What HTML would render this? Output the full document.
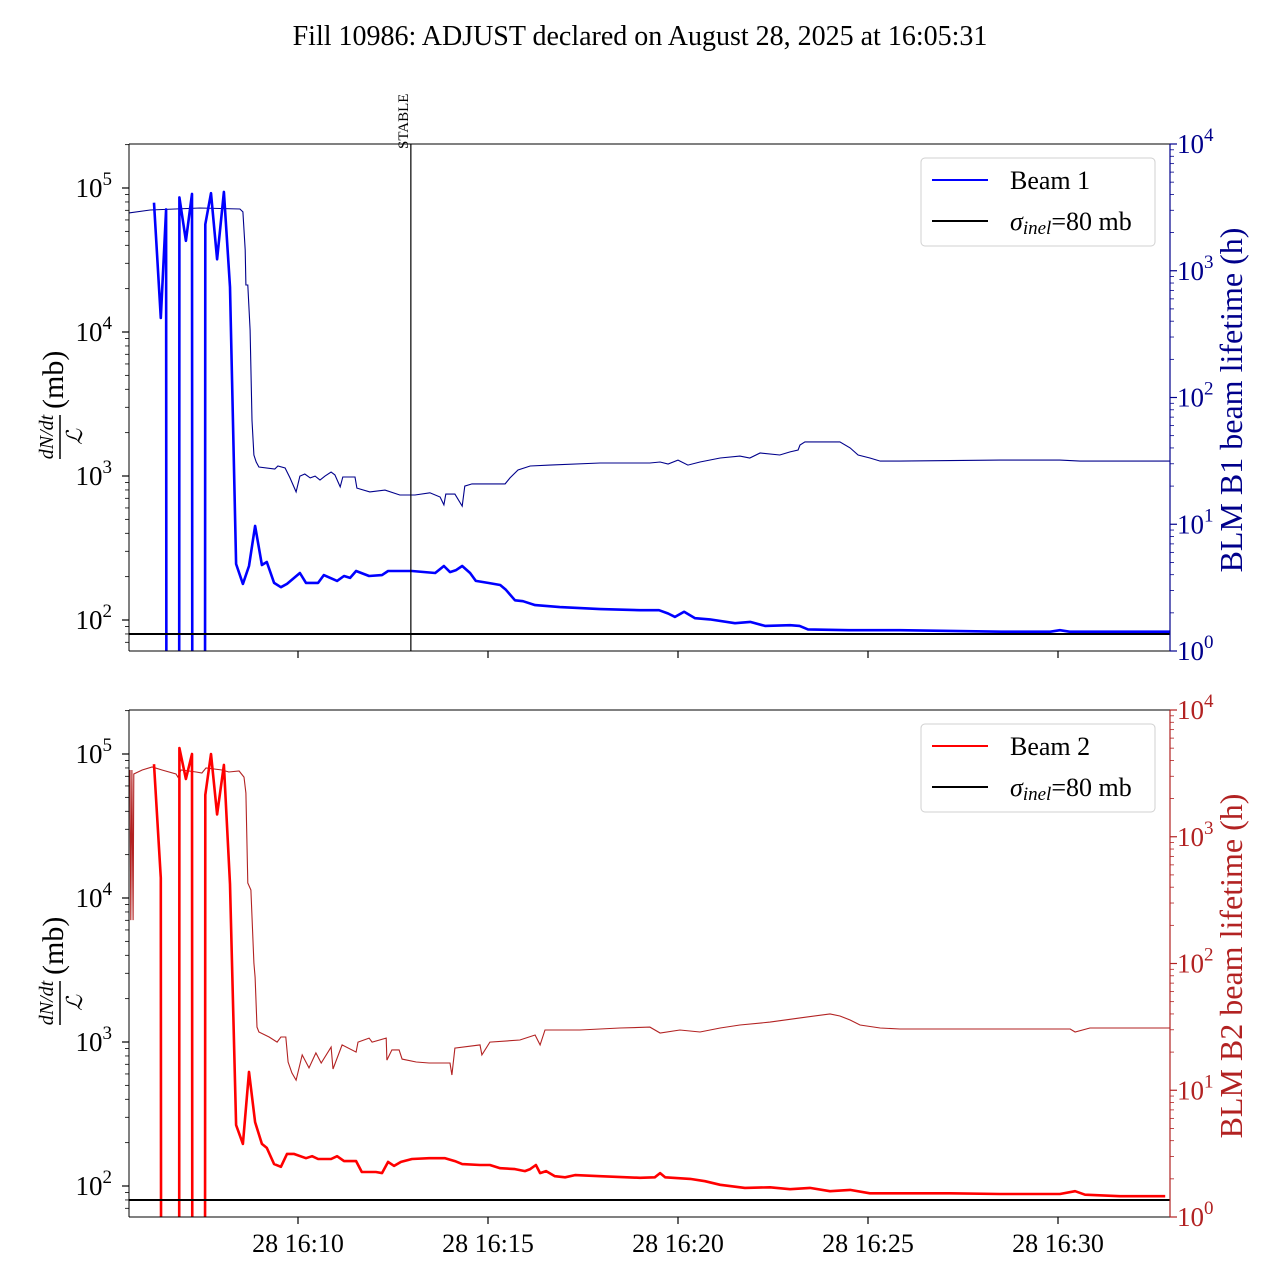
<!DOCTYPE html>
<html><head><meta charset="utf-8"><style>
html,body{margin:0;padding:0;background:#fff;width:1280px;height:1280px;overflow:hidden;}
svg{display:block;position:absolute;left:0;top:0;font-family:"Liberation Serif","DejaVu Serif",serif;}
</style></head><body>
<svg id="chart" width="1280" height="1280" viewBox="0 0 1280 1280" xmlns="http://www.w3.org/2000/svg">
<rect width="1280" height="1280" fill="#fff"/>
<text x="640" y="45" font-size="28" text-anchor="middle">Fill 10986: ADJUST declared on August 28, 2025 at 16:05:31</text>
</svg>
<script>
// time in minutes after 16:00
const xTickMinutes = [10, 15, 20, 25, 30];
const xTickLabels = ["28 16:10", "28 16:15", "28 16:20", "28 16:25", "28 16:30"];
const leftTickExps = [2, 3, 4, 5];
const rightTickExps = [0, 1, 2, 3, 4];
const sigmaInel = 80;
const stableMinute = 12.97;

const b1Time = [6.21,6.39,6.53,6.54,6.87,6.88,7.05,7.21,7.22,7.55,7.56,7.71,7.87,8.05,8.21,8.37,8.55,8.71,8.87,9.05,9.18,9.37,9.55,9.71,10.05,10.21,10.53,10.68,11.03,11.21,11.37,11.53,11.87,12.21,12.37,13.0,13.61,13.84,14.0,14.16,14.32,14.53,14.68,15.0,15.32,15.47,15.71,15.92,16.24,16.89,17.95,19.0,19.5,19.74,19.92,20.16,20.45,20.84,21.5,21.9,22.29,22.95,23.2,23.42,24.5,25.84,28.5,29.8,30.05,30.3,32.95];
const b1Xsec = [79000,12500,71000,1,1,86000,43000,91000,1,1,56000,92000,32000,94000,20500,245,178,237,450,241,253,181,169,178,212,181,181,205,187,202,196,219,202,205,219,219,212,237,215,222,237,212,187,181,175,162,137,135,127,123,119,117,117,111,105,114,103,101,95,97,91,92,91,86,85,85,83,83,85,83,83];

const b1LtTime = [5.55,6.11,7.42,8.47,8.55,8.61,8.63,8.68,8.74,8.79,8.84,8.9,8.97,9.39,9.47,9.66,9.79,9.95,10.05,10.18,10.32,10.45,10.58,10.71,10.87,10.97,11.11,11.18,11.5,11.55,11.89,12.29,12.68,13.08,13.47,13.74,13.84,13.89,14.13,14.32,14.39,14.58,15.05,15.45,15.58,15.79,16.11,16.63,17.95,19.26,19.53,19.74,20.0,20.26,20.58,21.11,21.63,21.89,22.16,22.68,22.95,23.16,23.21,23.34,24.26,24.53,24.74,25.05,25.32,25.84,28.47,30.05,30.58,32.95];
const b1Lifetime = [2857,3014,3126,3070,2913,1458,772,772,341,66,35.2,31,28.3,27.3,28.8,27.8,23.2,18,24,24.9,23.2,24,22.3,24,25.8,24.5,19.7,23.6,23.6,19.3,18,18.6,17,17,17.7,16.4,14.2,17.3,17.3,13.9,20,20.8,20.8,20.8,23.2,26.8,28.8,29.3,30.4,30.4,31,29.9,32.1,29.3,31,33.3,34.5,33.3,36.5,35.2,37.2,38.5,42.2,44.6,44.6,40,35.2,33.3,31.5,31.5,32.1,32.1,31.5,31.5];

const b2Time = [6.21,6.39,6.4,6.87,6.88,7.05,7.21,7.22,7.55,7.56,7.71,7.87,8.05,8.21,8.37,8.55,8.71,8.87,9.05,9.18,9.37,9.55,9.71,9.89,10.21,10.37,10.53,10.87,11.03,11.21,11.53,11.68,12.05,12.21,12.37,12.53,12.71,13.0,13.45,13.87,14.13,14.32,14.79,15.05,15.32,15.71,15.97,16.11,16.26,16.37,16.53,16.76,17.03,17.29,17.95,19.0,19.39,19.53,19.66,20.32,20.71,21.11,21.76,22.42,22.95,23.47,24.0,24.53,25.05,25.84,27.16,28.47,30.05,30.45,30.71,31.63,32.82];
const b2Xsec = [85000,13800,1,1,110000,67000,100000,1,1,52000,100000,38000,84000,12500,265,196,620,278,196,184,142,136,167,167,156,161,154,154,161,149,149,125,125,123,147,138,147,154,156,156,149,142,140,140,133,131,127,131,140,123,127,117,115,119,117,114,115,123,115,112,108,102,97,98,95,97,92,94,89,89,89,88,88,92,87,85,85];

const b2LtTime = [5.58,5.6,5.63,5.66,5.68,5.9,6.16,6.42,6.79,6.84,6.92,7.32,7.47,7.58,8.0,8.18,8.45,8.58,8.63,8.68,8.76,8.84,8.87,8.92,8.97,9.24,9.45,9.55,9.68,9.74,9.84,9.95,10.11,10.29,10.47,10.61,10.87,10.92,11.16,11.53,11.58,11.87,11.95,12.32,12.34,12.47,12.66,12.74,13.11,13.45,14.0,14.05,14.13,14.79,14.84,15.05,15.84,16.24,16.37,16.5,17.42,18.47,19.26,19.53,20.05,20.58,21.11,21.63,22.42,23.21,24.0,24.26,24.53,24.79,25.32,25.84,28.47,30.32,30.45,30.84,32.95];
const b2Lifetime = [3365,220,3365,220,3126,3365,3548,3365,3126,2958,3365,3243,3184,3486,3365,3243,3304,2958,2213,432,380,101,78,31.5,28.8,26.3,24,26.3,26.3,16.7,13.7,12,19,15,19.7,16.4,21.9,14.7,22.8,20,24,25.8,24,25.8,17.3,20.8,20.8,17.6,16.7,16.4,16.4,13.2,21.5,22.8,19,24,24.9,27.3,22.8,29.9,29.9,31,31.5,28.3,29.9,28.8,31,32.7,34.5,37.2,40,38.5,35.8,32.7,31,30.4,30.4,30.4,28.8,31,31];

const NS = "http://www.w3.org/2000/svg";
const svg = document.getElementById('chart');
function mk(tag, attrs, parent) {
  const e = document.createElementNS(NS, tag);
  for (const k in attrs) e.setAttribute(k, attrs[k]);
  (parent || svg).appendChild(e);
  return e;
}
const X0 = 129, X1 = 1170;
function xScale(t) { return 298 + (t - 10) * 38; }

function drawPanel(idx, cfg) {
  const top = cfg.top, bot = cfg.top + 507;
  const ly = v => (cfg.top + 44) + (5 - Math.log10(v)) * 144;
  const ry = h => bot - Math.log10(h) * 126.75;
  const g = mk('g', {});
  
  
  const clipId = 'clip' + idx;
  const cp = mk('clipPath', {id: clipId}, g);
  mk('rect', {x: X0, y: top, width: X1 - X0, height: bot - top}, cp);

  const pl = (ts, vs, f) => { const n = Math.min(ts.length, vs.length); let s = ''; for (let i = 0; i < n; i++) s += (i ? ' ' : '') + xScale(ts[i]).toFixed(1) + ',' + f(vs[i]).toFixed(1); return s; };
  const thin = mk('polyline', {points: pl(cfg.ltT, cfg.ltV, ry), fill: 'none', stroke: cfg.thinColor, 'stroke-width': 1.1, 'clip-path': 'url(#' + clipId + ')'}, g);
  
  
  const thick = mk('polyline', {points: pl(cfg.xT, cfg.xV, ly), fill: 'none', stroke: cfg.color, 'stroke-width': 2.6, 'stroke-linejoin': 'round', 'clip-path': 'url(#' + clipId + ')'}, g);
  
  
  const sig = mk('line', {x1: X0, x2: X1, y1: ly(sigmaInel), y2: ly(sigmaInel), stroke: '#000', 'stroke-width': 2}, g);
  
  

  if (cfg.stable) {
    const sx = xScale(stableMinute);
    const sl = mk('line', {x1: sx, x2: sx, y1: top, y2: bot, stroke: '#000', 'stroke-width': 1.2}, g);
    
    
    const st = mk('text', {x: 0, y: 0, 'font-size': 15, transform: 'translate(' + (sx - 3) + ',' + (top + 5) + ') rotate(-90)'}, g);
    st.textContent = 'STABLE';
    
    
  }

  mk('line', {x1: X0, x2: X0, y1: top, y2: bot, stroke: '#000', 'stroke-width': 1}, g);
  mk('line', {x1: X0, x2: X1, y1: top, y2: top, stroke: '#000', 'stroke-width': 1}, g);
  mk('line', {x1: X0, x2: X1, y1: bot, y2: bot, stroke: '#000', 'stroke-width': 1}, g);
  mk('line', {x1: X1, x2: X1, y1: top, y2: bot, stroke: cfg.rightColor, 'stroke-width': 1.2}, g);

  for (let e = 1; e <= 5; e++) {
    for (let m = 1; m < 10; m++) {
      const v = m * Math.pow(10, e); const y = ly(v);
      if (y < top - 0.5 || y > bot + 0.5) continue;
      mk('line', {x1: X0, x2: X0 - (m === 1 ? 7 : 4), y1: y, y2: y, stroke: '#000', 'stroke-width': m === 1 ? 1.2 : 0.8}, g);
    }
  }
  leftTickExps.forEach(e => {
    const y = ly(Math.pow(10, e));
    const t = mk('text', {x: 112, y: y + 9, 'font-size': 27, 'text-anchor': 'end'}, g);
    
    
    t.appendChild(document.createTextNode('10'));
    const s = mk('tspan', {dy: -12, 'font-size': 19}, t); s.textContent = String(e);
  });
  for (let e = 0; e < 4; e++) {
    for (let m = 1; m < 10; m++) {
      const y = ry(m * Math.pow(10, e));
      mk('line', {x1: X1, x2: X1 + (m === 1 ? 7 : 4), y1: y, y2: y, stroke: cfg.rightColor, 'stroke-width': m === 1 ? 1.2 : 0.8}, g);
    }
  }
  mk('line', {x1: X1, x2: X1 + 7, y1: top, y2: top, stroke: cfg.rightColor, 'stroke-width': 1.2}, g);
  rightTickExps.forEach(e => {
    const y = ry(Math.pow(10, e));
    const t = mk('text', {x: 1177, y: y + 9, 'font-size': 27, fill: cfg.rightColor}, g);
    
    
    t.appendChild(document.createTextNode('10'));
    const s = mk('tspan', {dy: -12, 'font-size': 19}, t); s.textContent = String(e);
  });
  xTickMinutes.forEach((m, i) => {
    const x = xScale(m);
    mk('line', {x1: x, x2: x, y1: bot, y2: bot + 7, stroke: '#000', 'stroke-width': 1.2}, g);
    if (cfg.xlabels) {
      const t = mk('text', {x: x, y: bot + 35, 'font-size': 26, 'text-anchor': 'middle'}, g);
      t.textContent = xTickLabels[i];
      
      
    }
  });
  const cy = top + 253;
  const yl = mk('g', {transform: 'translate(63,' + cy + ') rotate(-90)'}, g);
  
  
  const num = mk('text', {x: -40, y: -10, 'font-size': 20, 'font-style': 'italic', 'text-anchor': 'middle'}, yl); num.textContent = 'dN/dt';
  mk('line', {x1: -62, x2: -18, y1: -3, y2: -3, stroke: '#000', 'stroke-width': 1.5}, yl);
  const den = mk('text', {x: -40, y: 19, 'font-size': 22, 'font-style': 'italic', 'text-anchor': 'middle'}, yl); den.textContent = 'ℒ';
  const mb = mk('text', {x: -12, y: 0, 'font-size': 30}, yl); mb.textContent = '(mb)';
  const rl = mk('text', {x: 0, y: 0, 'font-size': 32, fill: cfg.rightColor, 'text-anchor': 'middle', transform: 'translate(1242,' + (cy + 3) + ') rotate(-90)'}, g);
  rl.textContent = cfg.rightLabel;
  
  
  const lg = mk('g', {}, g);
  
  
  const lt = top + 14;
  mk('rect', {x: 921, y: lt, width: 234, height: 88, rx: 4, fill: '#fff', 'fill-opacity': 0.8, stroke: '#d0d0d0', 'stroke-width': 1}, lg);
  mk('line', {x1: 932, x2: 988, y1: lt + 22, y2: lt + 22, stroke: cfg.color, 'stroke-width': 2}, lg);
  const t1 = mk('text', {x: 1010, y: lt + 31, 'font-size': 26}, lg); t1.textContent = cfg.legend;
  mk('line', {x1: 932, x2: 988, y1: lt + 63, y2: lt + 63, stroke: '#000', 'stroke-width': 2}, lg);
  const t2 = mk('text', {x: 1010, y: lt + 72, 'font-size': 26}, lg);
  const s1 = mk('tspan', {'font-style': 'italic'}, t2); s1.textContent = 'σ';
  const s2 = mk('tspan', {'font-style': 'italic', 'font-size': 19, dy: 4}, t2); s2.textContent = 'inel';
  const s3 = mk('tspan', {dy: -4}, t2); s3.textContent = '=80 mb';
}

drawPanel(0, {name: 'beam-1', top: 144, xT: b1Time, xV: b1Xsec, ltT: b1LtTime, ltV: b1Lifetime, color: '#0000ff', thinColor: '#00008b', rightColor: '#00008b', rightLabel: 'BLM B1 beam lifetime (h)', legend: 'Beam 1', stable: true, xlabels: false});
drawPanel(1, {name: 'beam-2', top: 710, xT: b2Time, xV: b2Xsec, ltT: b2LtTime, ltV: b2Lifetime, color: '#ff0000', thinColor: '#b22222', rightColor: '#b22222', rightLabel: 'BLM B2 beam lifetime (h)', legend: 'Beam 2', stable: false, xlabels: true});
</script>
</body></html>
